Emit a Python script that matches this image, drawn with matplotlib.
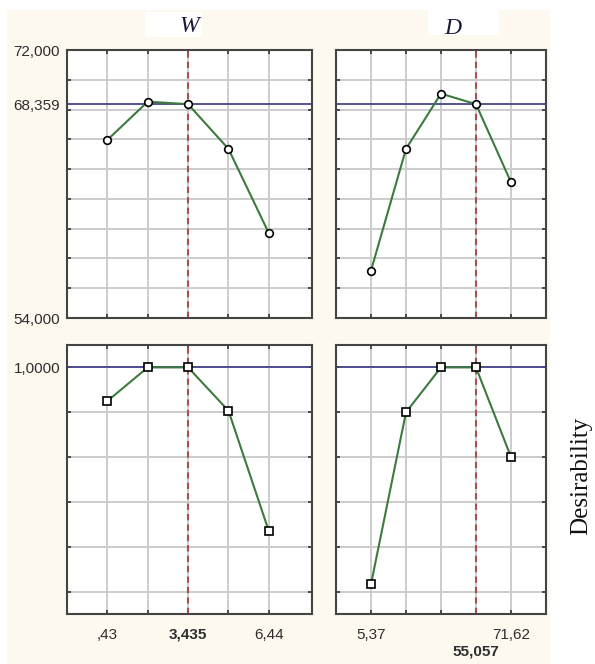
import numpy as np
import matplotlib.pyplot as plt
from matplotlib.patches import Rectangle

# factor levels
w_levels = [0.43, 1.9325, 3.435, 4.9375, 6.44]
d_levels = [5.37, 21.9325, 38.495, 55.0575, 71.62]
w_current = 3.435
d_current = 55.0575

# predicted response
resp_w = [65.96, 68.53, 68.36, 65.36, 59.70]
resp_d = [57.18, 65.36, 69.07, 68.36, 63.12]
resp_current = 68.359

# desirability
des_w = [0.85, 1.0, 1.0, 0.807, 0.27]
des_d = [0.033, 0.80, 1.0, 1.0, 0.60]

W, H = 595, 664
fig = plt.figure(figsize=(W / 100, H / 100), dpi=100)
fig.patch.set_facecolor('white')

def box(x0, y0, x1, y1):
    return [x0 / W, 1 - y1 / H, (x1 - x0) / W, (y1 - y0) / H]

# cream background
fig.patches.append(Rectangle((7 / W, 0), (550 - 7) / W, 1 - 10 / H,
                             transform=fig.transFigure, facecolor='#fdf9ef',
                             edgecolor='none', zorder=-2))

sans = 'Liberation Sans'
serif = 'Liberation Serif'
tcol = '#2e2e2e'
green = '#3d7a3d'
navy = '#45458a'
red = '#a85050'

def style(ax, levels, xlim, ylim, yticks):
    ax.set_facecolor('white')
    ax.set_xlim(*xlim)
    ax.set_ylim(*ylim)
    ax.set_xticks(levels)
    ax.set_yticks(yticks)
    ax.grid(True, color='#cccccc', lw=1.4, zorder=0)
    ax.set_axisbelow(True)
    for s in ax.spines.values():
        s.set_color('#444444')
        s.set_linewidth(1.5)
    ax.tick_params(which='major', direction='in', length=3, width=1.2, color='#333333',
                   top=True, right=True, labelsize=11, labelcolor=tcol, pad=5)
    ax.tick_params(axis='x', pad=10)

step_w = w_levels[1] - w_levels[0]
step_d = d_levels[1] - d_levels[0]
xlim_w = (w_levels[0] - 1.0 * step_w, w_levels[-1] + 1.07 * step_w)
xlim_d = (d_levels[0] - 1.0 * step_d, d_levels[-1] + 1.0 * step_d)

top_ticks = np.arange(54, 73, 2)
bot_ticks = np.arange(0, 1.01, 0.2)

ax1 = fig.add_axes(box(67, 50, 312, 318))
ax2 = fig.add_axes(box(336, 50, 546, 318))
ax3 = fig.add_axes(box(67, 345, 312, 614))
ax4 = fig.add_axes(box(336, 345, 546, 614))

for ax, lv, xl, cur, y, mk, yl, yt, hline in [
        (ax1, w_levels, xlim_w, w_current, resp_w, 'o', (54, 72), top_ticks, resp_current),
        (ax2, d_levels, xlim_d, d_current, resp_d, 'o', (54, 72), top_ticks, resp_current),
        (ax3, w_levels, xlim_w, w_current, des_w, 's', (-0.1, 1.1), bot_ticks, 1.0),
        (ax4, d_levels, xlim_d, d_current, des_d, 's', (-0.1, 1.1), bot_ticks, 1.0)]:
    style(ax, lv, xl, yl, yt)
    ax.axhline(hline, color=navy, lw=1.3, zorder=2)
    ax.axvline(cur, color=red, lw=1.5, ls=(0, (3, 2)), zorder=2)
    ax.plot(lv, y, color=green, lw=1.5, marker=mk, ms=5.5, mfc='white',
            mec='black', mew=1.2, zorder=3)
    ax.set_xticklabels([])
    ax.set_yticklabels([])

# y labels
ax1.set_yticklabels(['54,000'] + [''] * 8 + ['72,000'], fontfamily=sans)
ax1.set_yticks([resp_current], ['68,359'], minor=True, fontfamily=sans)
ax1.tick_params(which='minor', length=0, labelsize=11, labelcolor=tcol, pad=5)
ax3.set_yticklabels([''] * 5 + ['1,0000'], fontfamily=sans)

# x labels
ax3.set_xticklabels([',43', '', '3,435', '', '6,44'], fontfamily=sans)
ax3.get_xticklabels()[2].set_fontweight('bold')
ax4.set_xticklabels(['5,37', '', '', '', '71,62'], fontfamily=sans)
ax4.annotate('55,057', xy=(d_current, 0), xycoords=('data', 'axes fraction'),
             xytext=(0, -27), textcoords='offset points', ha='center', va='center',
             fontsize=11, fontweight='bold', color=tcol, fontfamily=sans)

# panel titles on white boxes
for (x0, y0, x1, y1), label in [((145, 12, 202, 37), 'W'), ((428, 10, 499, 35), 'D')]:
    fig.patches.append(Rectangle((x0 / W, 1 - y1 / H), (x1 - x0) / W, (y1 - y0) / H,
                                 transform=fig.transFigure, facecolor='white',
                                 edgecolor='none', zorder=-1))
fig.text(189 / W, 1 - 27 / H, 'W', fontsize=17, fontstyle='italic', fontfamily=serif,
         color='#1a1a3a', ha='center', va='center')
fig.text(453 / W, 1 - 28 / H, 'D', fontsize=17, fontstyle='italic', fontfamily=serif,
         color='#1a1a3a', ha='center', va='center')

fig.text(581 / W, 1 - 476 / H, 'Desirability', rotation=90, fontsize=18,
         fontfamily=serif, color='#111111', ha='center', va='center')

fig.savefig('out.png', dpi=100)
